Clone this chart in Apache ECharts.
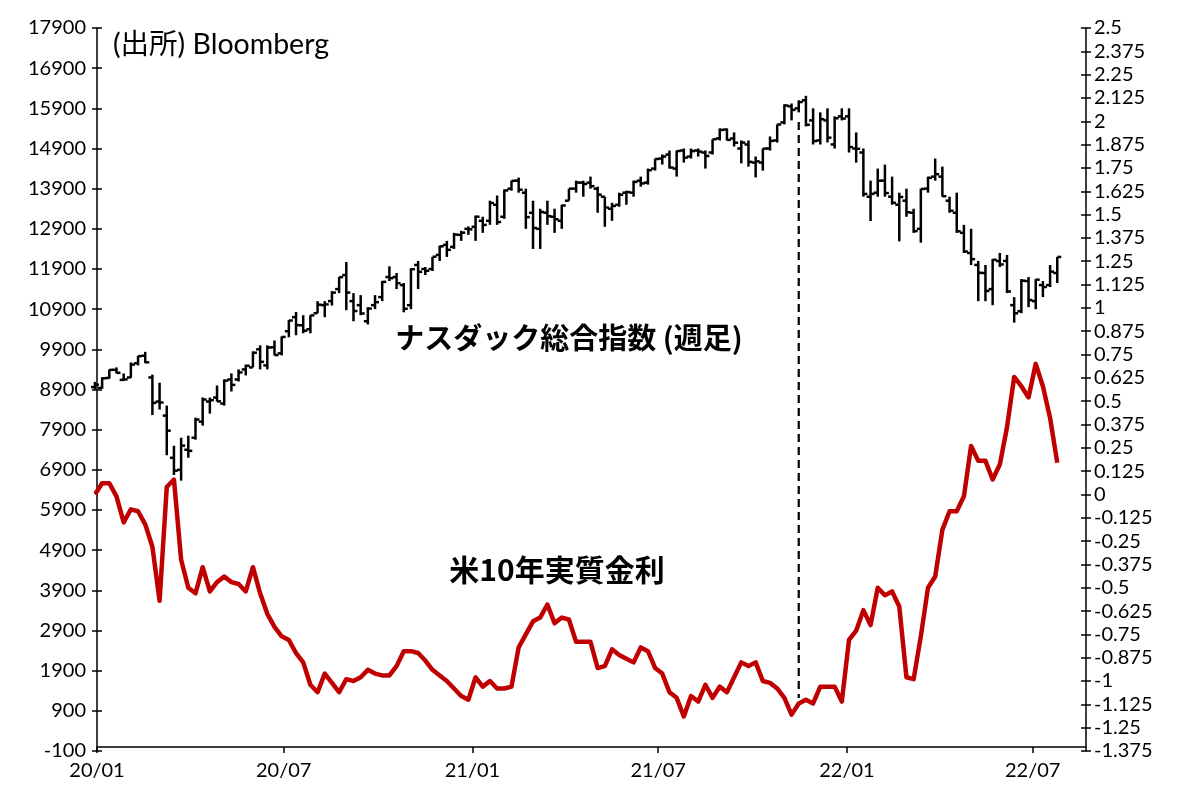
<!DOCTYPE html>
<html><head><meta charset="utf-8">
<script src="https://cdn.jsdelivr.net/npm/echarts@6/dist/echarts.min.js"></script>
<style>html,body{margin:0;padding:0;background:#fff}#c{width:1182px;height:787px}</style>
</head><body><div id="c"></div>
<script>
// weekly bars, dated by the Monday of each week, starting 2019-12-30
const firstMonday = [2019, 11, 30];
const weekCount = 135;

const nasdaqOpen = [
  8960,8940,9187,9390,9139,9200,9555,9740,9200,8600,
  8250,7200,6900,7400,7700,8100,8600,8700,8550,9150,
  9150,9400,9450,9900,9500,9950,9800,10350,10700,10500,
  10400,10800,11000,11100,11400,11750,11100,11000,10600,11000,
  11200,11700,11700,11500,11000,12000,11900,11900,12250,12500,
  12450,12750,12900,12950,13100,13100,13500,13200,13900,14100,
  13800,13300,12900,13300,13200,13100,13600,13900,14050,14050,
  13900,13700,13400,13500,13800,13800,14100,14050,14400,14650,
  14750,14400,14850,14700,14850,14800,14800,15150,15370,15150,
  14900,15000,14550,14550,14900,15100,15550,15950,15900,16100,
  15600,15100,15600,15000,15700,15700,14900,14800,13700,13800,
  14100,13700,13500,13600,13300,12900,13900,14200,14200,13600,
  13300,12800,12300,12000,11800,11400,12100,12100,11000,10850,
  11600,11100,11500,11500,11800];
const nasdaqHigh = [
  9090,9204,9400,9451,9300,9574,9738,9838,9270,9070,
  8500,7500,7700,7750,8200,8700,8700,9000,9150,9300,
  9400,9520,9850,10000,10000,10120,10220,10630,10830,10750,
  10750,11100,11100,11350,11700,12074,11300,11250,10950,11250,
  11600,11965,11800,11550,11920,12100,11950,12200,12480,12600,
  12800,12850,12960,13230,13200,13600,13730,13880,14100,14175,
  13900,13600,13400,13600,13400,13500,13900,14100,14100,14200,
  13950,13700,13550,13800,13850,14100,14200,14400,14650,14750,
  14850,14850,14900,14900,14900,14850,15130,15400,15400,15300,
  15100,15100,14700,14900,15200,15500,16000,16020,16100,16212,
  15900,15800,15900,15700,15900,15900,15300,14900,14100,14400,
  14500,14200,13800,13900,13400,13900,14200,14650,14450,13700,
  13800,13000,12900,12100,12000,12150,12300,12250,11200,11650,
  11700,11650,11600,12000,12200];
const nasdaqLow = [
  8900,8917,9170,9300,9118,9190,9500,9557,8264,8400,
  7263,6771,6631,7200,7650,8000,8300,8600,8500,8850,
  9100,9250,9450,9400,9400,9750,9750,10200,10250,10300,
  10300,10800,10700,10990,11300,10875,10600,10750,10520,10900,
  11100,11600,11400,10822,10900,11400,11750,11850,12100,12200,
  12400,12600,12750,12600,12800,13000,13000,13150,13850,13800,
  12900,12400,12400,13000,12800,12900,13600,13800,13700,13900,
  13300,12950,13100,13450,13500,13700,13950,14000,14350,14500,
  14400,14200,14550,14650,14700,14400,14750,15100,15100,14950,
  14530,14450,14180,14350,14850,15050,15500,15600,15800,15450,
  15000,15000,15050,14900,15600,14800,14550,13700,13094,13700,
  13700,13500,12587,13200,12800,12555,13800,14100,13700,13300,
  12800,12300,12000,11100,11100,11000,11950,11300,10565,10800,
  10950,10900,11200,11450,11550];
const nasdaqClose = [
  9020,9179,9389,9315,9151,9520,9731,9577,8567,8576,
  7875,6880,7502,7373,8153,8650,8634,8605,9121,9015,
  9325,9490,9815,9589,9946,9757,10208,10617,10503,10363,
  10745,11011,11019,11312,11696,11313,10854,10793,10914,11075,
  11580,11672,11548,10911,11895,11829,11855,12206,12464,12377,
  12756,12805,12888,13202,12998,13543,13070,13856,14095,13874,
  13192,12920,13320,13215,13139,13480,13900,14052,14016,13962,
  13752,13430,13471,13749,13814,14069,14030,14360,14639,14701,
  14427,14837,14673,14835,14822,14714,15129,15363,15115,15044,
  15048,14567,14580,14897,15090,15498,15971,15861,16057,15491,
  15085,15630,15170,15653,15645,14936,14893,13768,13770,14098,
  13791,13548,13694,13313,12843,13893,14169,14261,13711,13351,
  12839,12335,12145,11805,11354,12131,12013,11340,10798,11608,
  11128,11635,11452,11834,12200];
// US 10Y real yield (%), weekly
const realYield = [
  0.00,0.06,0.06,-0.01,-0.15,-0.08,-0.09,-0.16,-0.28,-0.57,
  0.04,0.08,-0.35,-0.50,-0.53,-0.39,-0.52,-0.47,-0.44,-0.47,
  -0.48,-0.52,-0.39,-0.53,-0.64,-0.71,-0.76,-0.78,-0.85,-0.90,
  -1.02,-1.06,-0.96,-1.01,-1.06,-0.99,-1.00,-0.98,-0.94,-0.96,
  -0.97,-0.97,-0.92,-0.84,-0.84,-0.85,-0.89,-0.94,-0.97,-1.00,
  -1.04,-1.08,-1.10,-0.98,-1.03,-1.00,-1.04,-1.04,-1.03,-0.82,
  -0.75,-0.68,-0.66,-0.59,-0.69,-0.66,-0.67,-0.79,-0.79,-0.79,
  -0.93,-0.92,-0.83,-0.86,-0.88,-0.90,-0.82,-0.84,-0.93,-0.96,
  -1.06,-1.09,-1.19,-1.08,-1.11,-1.02,-1.09,-1.03,-1.06,-0.98,
  -0.90,-0.92,-0.90,-1.00,-1.01,-1.04,-1.09,-1.18,-1.12,-1.10,
  -1.12,-1.03,-1.03,-1.03,-1.11,-0.78,-0.73,-0.62,-0.70,-0.50,
  -0.54,-0.52,-0.60,-0.98,-0.99,-0.76,-0.50,-0.44,-0.19,-0.09,
  -0.09,-0.01,0.26,0.18,0.18,0.08,0.16,0.36,0.63,0.58,
  0.52,0.70,0.58,0.41,0.17];

const leftTicks = [-100,900,1900,2900,3900,4900,5900,6900,7900,8900,9900,10900,11900,12900,13900,14900,15900,16900,17900];
const xTickDates = ['2020-01-01','2020-07-01','2021-01-01','2021-07-01','2022-01-01','2022-07-01'];
const xRange = ['2020-01-01','2022-08-22'];
const dashLine = { date: '2021-11-15', from: 15560, to: 1220 };
const sourceText = '(出所) Bloomberg';
const nasdaqLabel = 'ナスダック総合指数 (週足)';
const yieldLabel = '米10年実質金利';

function ts(s){ const p = s.split('-').map(Number); return new Date(p[0], p[1]-1, p[2]).getTime(); }
const weeks = [];
for (let i = 0; i < weekCount; i++) weeks.push(new Date(firstMonday[0], firstMonday[1], firstMonday[2] + 7*i).getTime());

const ohlc = weeks.map((w,i) => [w, nasdaqOpen[i], nasdaqHigh[i], nasdaqLow[i], nasdaqClose[i]]);
const yieldData = weeks.map((w,i) => [w, realYield[i]]);

const FONT = 'Lato, "Noto Sans CJK JP", sans-serif';
const lbl = { color:'#000', fontFamily: FONT, fontSize: 20 };
const axisLine = { show:true, lineStyle:{ color:'#000', width:1.5 } };

const chart = echarts.init(document.getElementById('c'), null, {renderer:'canvas'});
const xTicks = xTickDates.map(ts);
const option = {
  animation:false,
  grid:{ left:97, right:96, top:28, bottom:36, containLabel:false },
  xAxis:[{
    type:'value', min: ts(xRange[0]), max: ts(xRange[1]), scale:true,
    axisLine: axisLine,
    axisTick:{ show:true, customValues: xTicks, length:6, lineStyle:{color:'#000', width:1.5} },
    axisLabel:{ ...lbl, customValues: xTicks, margin:10, hideOverlap:false,
      formatter: v => { const d = new Date(v); return String(d.getFullYear()%100).padStart(2,'0') + '/' + String(d.getMonth()+1).padStart(2,'0'); } },
    splitLine:{show:false}
  }],
  yAxis:[
    { type:'value', position:'left', min:-100, max:17900,
      axisLine: axisLine,
      axisTick:{ show:true, customValues:leftTicks, length:5, lineStyle:{color:'#000', width:1.5} },
      axisLabel:{ ...lbl, customValues:leftTicks, margin:11, formatter: v => String(v) },
      splitLine:{show:false} },
    { type:'value', position:'left', min:-100, max:17900,
      axisLine:{show:false},
      axisTick:{ show:true, inside:true, customValues:leftTicks, length:5, lineStyle:{color:'#000', width:1.5} },
      axisLabel:{ show:false }, splitLine:{show:false} },
    { type:'value', position:'right', min:-1.375, max:2.5, interval:0.125,
      axisLine: axisLine,
      axisTick:{ show:true, length:5, lineStyle:{color:'#000', width:1.5} },
      axisLabel:{ ...lbl, margin:8 },
      splitLine:{show:false} },
    { type:'value', position:'right', min:-1.375, max:2.5, interval:0.125,
      axisLine:{show:false},
      axisTick:{ show:true, inside:true, length:5, lineStyle:{color:'#000', width:1.5} },
      axisLabel:{ show:false }, splitLine:{show:false} }
  ],
  series:[
    { type:'custom', name:'nasdaq', yAxisIndex:0, data: ohlc,
      encode:{ x:0, y:[1,2,3,4] },
      renderItem:(params, api) => {
        const x = api.value(0);
        const o = api.coord([x, api.value(1)]), h = api.coord([x, api.value(2)]);
        const l = api.coord([x, api.value(3)]), c = api.coord([x, api.value(4)]);
        const st = { stroke:'#000', lineWidth:2.5 };
        const t = 4;
        return { type:'group', children:[
          { type:'line', shape:{ x1:h[0], y1:h[1], x2:l[0], y2:l[1] }, style: st },
          { type:'line', shape:{ x1:o[0]-t, y1:o[1], x2:o[0], y2:o[1] }, style: st },
          { type:'line', shape:{ x1:c[0], y1:c[1], x2:c[0]+t, y2:c[1] }, style: st }
        ]};
      }, z:3 },
    { type:'line', name:'yield', yAxisIndex:2, data: yieldData, showSymbol:false, symbol:'none',
      lineStyle:{ color:'#C00000', width:4.5, join:'round' }, z:4 },
    { type:'custom', name:'dash', yAxisIndex:0,
      data:[[ts(dashLine.date), dashLine.from, dashLine.to]],
      encode:{ x:0, y:[1,2] },
      renderItem:(params, api) => {
        const a = api.coord([api.value(0), api.value(1)]);
        const b = api.coord([api.value(0), api.value(2)]);
        return { type:'line', shape:{ x1:a[0], y1:a[1], x2:b[0], y2:b[1] },
          style:{ stroke:'#000', lineWidth:2.2, lineDash:[8,5] } };
      }, z:2 }
  ],
  graphic:[
    { type:'text', left:113, top:31, style:{ text: sourceText, fill:'#000', font:'28.5px Lato, "Noto Sans CJK JP", sans-serif' } },
    { type:'text', x:569, y:338, style:{ text: nasdaqLabel, fill:'#000', align:'center', verticalAlign:'middle', font:'bold 29px "Noto Sans CJK JP", sans-serif' } },
    { type:'text', x:557, y:570, style:{ text: yieldLabel, fill:'#000', align:'center', verticalAlign:'middle', font:'bold 30px "Noto Sans CJK JP", sans-serif' } }
  ]
};
chart.setOption(option);
</script>
</body></html>
